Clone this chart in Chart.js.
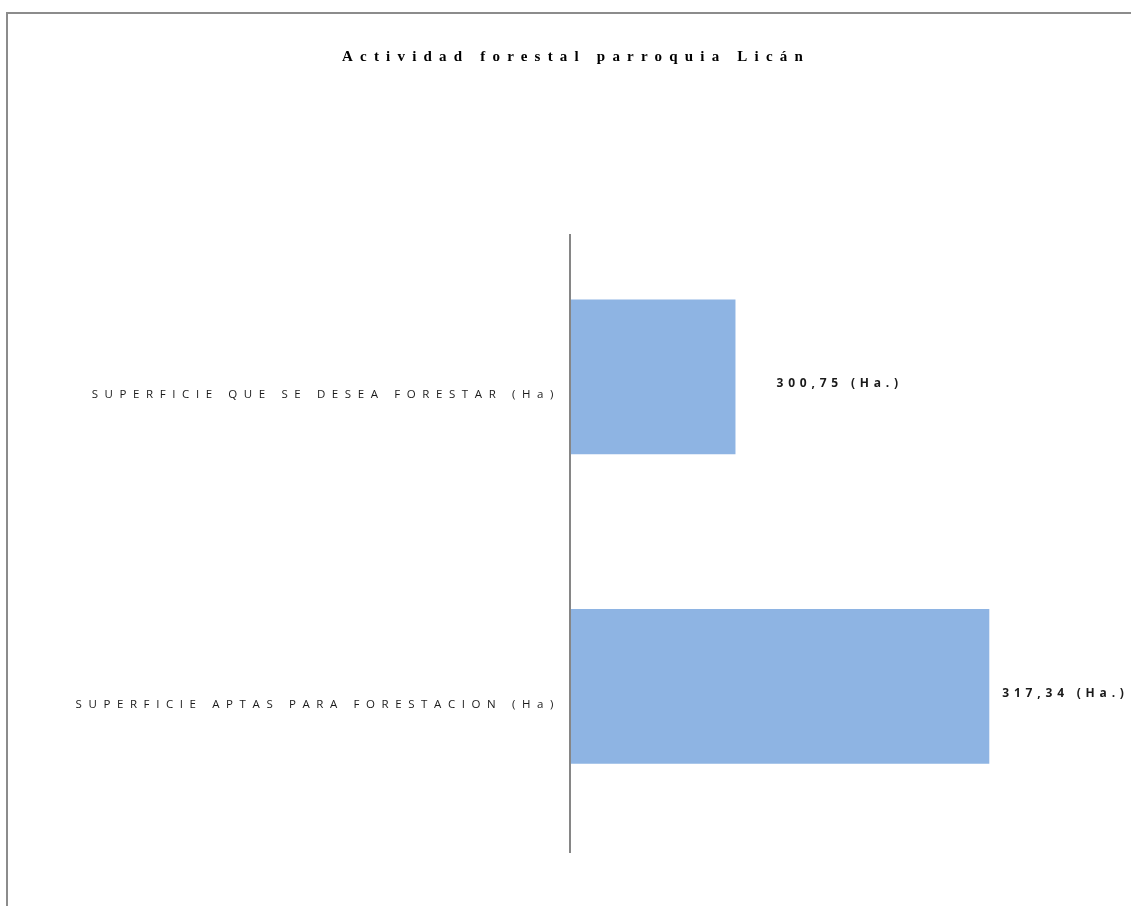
<!DOCTYPE html>
<html>
<head>
<meta charset="utf-8">
<script src="https://cdn.jsdelivr.net/npm/chart.js@4/dist/chart.umd.min.js"></script>
<style>
  html, body { margin: 0; padding: 0; background: #fff; overflow: hidden; }
  #frame { position: absolute; left: 6px; top: 12px; width: 1200px; height: 1000px; border: 2px solid #8c8c8c; box-sizing: border-box; }
  #wrap { position: absolute; left: 0; top: 0; width: 1131px; height: 906px; }
</style>
</head>
<body>
<div id="frame"></div>
<div id="wrap"><canvas id="forestChart"></canvas></div>
<script>
const titleText = 'Actividad forestal parroquia Licán';
const categories = ['SUPERFICIE QUE SE DESEA FORESTAR (Ha)', 'SUPERFICIE APTAS PARA FORESTACION (Ha)'];
const values = [300.75, 317.34];
const valueLabels = ['300,75 (Ha.)', '317,34 (Ha.)'];

// title, value labels and the vertical axis line (which sits a bit lower than the bars' band)
const textPlugin = {
    id: 'spacedText',
    beforeDraw(chart) {
        chart.ctx.letterSpacing = '6.6px';
    },
    afterDraw(chart) {
        const ctx = chart.ctx;
        const area = chart.chartArea;
        ctx.save();
        ctx.letterSpacing = '0px';
        ctx.strokeStyle = '#868686';
        ctx.lineWidth = 2;
        ctx.beginPath();
        ctx.moveTo(area.left - 1, area.top + 12);
        ctx.lineTo(area.left - 1, area.bottom + 12);
        ctx.stroke();

        ctx.fillStyle = '#000';
        ctx.letterSpacing = '7.2px';
        ctx.font = 'bold 15px "Liberation Serif"';
        ctx.textAlign = 'center';
        ctx.textBaseline = 'middle';
        ctx.fillText(titleText, 576, 57);

        const offsets = [41, 13];
        ctx.letterSpacing = '4.8px';
        ctx.font = 'bold 12px "Open Sans"';
        ctx.fillStyle = '#1a1a1a';
        ctx.textAlign = 'left';
        const meta = chart.getDatasetMeta(0);
        meta.data.forEach((bar, i) => {
            ctx.fillText(valueLabels[i], bar.x + offsets[i], bar.y + 7);
        });
        ctx.restore();
    }
};

const ctx = document.getElementById('forestChart').getContext('2d');
const forestChart = new Chart(ctx, {
    type: 'bar',
    data: {
        labels: categories,
        datasets: [{
            data: values,
            backgroundColor: '#8eb4e3',
            borderWidth: 0,
            barPercentage: 0.5,
            categoryPercentage: 1
        }]
    },
    options: {
        indexAxis: 'y',
        responsive: true,
        maintainAspectRatio: false,
        animation: false,
        layout: { padding: { left: 0, right: 101, top: 222, bottom: 65 } },
        plugins: {
            legend: { display: false },
            title: { display: false },
            tooltip: { enabled: false }
        },
        scales: {
            x: {
                display: false,
                min: 290,
                max: 320
            },
            y: {
                afterFit(scale) { scale.width = 571; },
                grid: { display: false },
                border: { display: false },
                ticks: {
                    color: '#1a1a1a',
                    padding: 3,
                    labelOffset: 18,
                    font: { family: '"Open Sans"', size: 11.5 }
                }
            }
        }
    },
    plugins: [textPlugin]
});
</script>
</body>
</html>
